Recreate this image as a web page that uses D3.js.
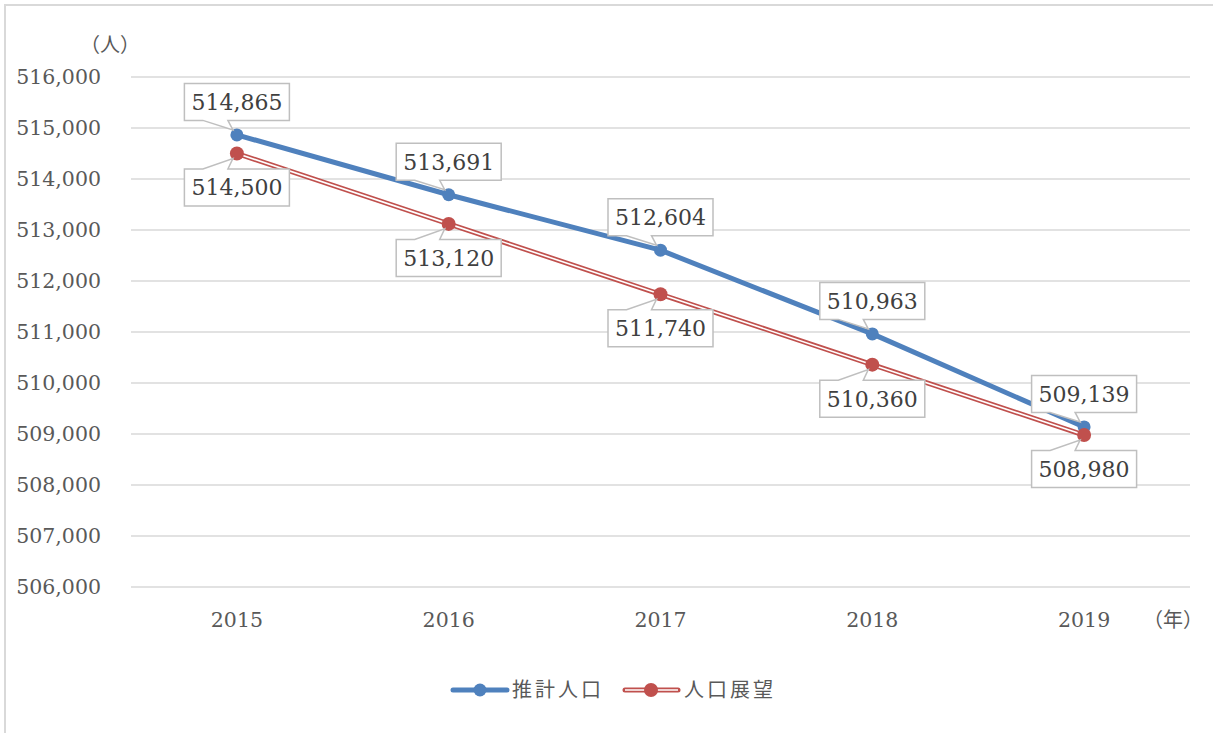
<!DOCTYPE html>
<html>
<head>
<meta charset="utf-8">
<script src="https://cdn.jsdelivr.net/npm/d3@7"></script>
<style>
  body { margin: 0; background: #fff; }
</style>
</head>
<body>
<div id="chart"></div>
<script>
// data
const years = ["2015", "2016", "2017", "2018", "2019"];
const estimated = [514865, 513691, 512604, 510963, 509139]; // 推計人口
const outlook = [514500, 513120, 511740, 510360, 508980];   // 人口展望
const yTicks = [506000, 507000, 508000, 509000, 510000, 511000, 512000, 513000, 514000, 515000, 516000];
const seriesNames = ["推計人口", "人口展望"];

const width = 1213;
const height = 733;
const margin = { top: 77, right: 23, bottom: 146, left: 131 };

const serif = "'DejaVu Serif', 'Liberation Serif', serif";
const jp = "'Noto Sans CJK JP', sans-serif";

const svg = d3.select("#chart")
    .append("svg")
    .attr("width", width)
    .attr("height", height);

// outer frame (only top + left visible in original)
svg.append("path")
    .attr("d", `M5,${height} L5,5 L${width + 5},5`)
    .attr("fill", "none")
    .attr("stroke", "#d9d9d9")
    .attr("stroke-width", 2);

const x = d3.scaleBand()
    .domain(years)
    .range([margin.left, width - margin.right]);

const y = d3.scaleLinear()
    .domain([506000, 516000])
    .range([height - margin.bottom, margin.top]);

const cx = d => x(d) + x.bandwidth() / 2;

// grid
svg.append("g")
    .selectAll("line")
    .data(yTicks)
    .join("line")
    .attr("x1", margin.left)
    .attr("x2", width - margin.right)
    .attr("y1", d => y(d))
    .attr("y2", d => y(d))
    .attr("stroke", "#d9d9d9")
    .attr("stroke-width", 1.5);

// y tick labels
svg.append("g")
    .selectAll("text")
    .data(yTicks)
    .join("text")
    .attr("x", 101)
    .attr("y", d => y(d))
    .attr("dy", "0.35em")
    .attr("text-anchor", "end")
    .attr("font-family", serif)
    .attr("font-size", 20.5)
    .attr("fill", "#595959")
    .text(d => d3.format(",")(d));

// x tick labels
svg.append("g")
    .selectAll("text")
    .data(years)
    .join("text")
    .attr("x", d => cx(d))
    .attr("y", 620)
    .attr("dy", "0.35em")
    .attr("text-anchor", "middle")
    .attr("font-family", serif)
    .attr("font-size", 20.5)
    .attr("fill", "#595959")
    .text(d => d);

// unit labels
svg.append("text")
    .attr("x", 110).attr("y", 45).attr("dy", "0.35em")
    .attr("text-anchor", "middle")
    .attr("font-family", jp).attr("font-size", 20).attr("fill", "#595959")
    .text("（人）");
svg.append("text")
    .attr("x", 1173).attr("y", 620).attr("dy", "0.35em")
    .attr("text-anchor", "middle")
    .attr("font-family", jp).attr("font-size", 20).attr("fill", "#595959")
    .text("（年）");

const line = d3.line()
    .x((d, i) => cx(years[i]))
    .y(d => y(d));

const blue = "#4f81bd";
const red = "#c0504d";

// 推計人口
svg.append("path")
    .datum(estimated)
    .attr("d", line)
    .attr("fill", "none")
    .attr("stroke", blue)
    .attr("stroke-width", 5)
    .attr("stroke-linejoin", "round");
svg.append("g")
    .selectAll("circle")
    .data(estimated)
    .join("circle")
    .attr("cx", (d, i) => cx(years[i]))
    .attr("cy", d => y(d))
    .attr("r", 6.5)
    .attr("fill", blue);

// 人口展望 (double line)
svg.append("path")
    .datum(outlook)
    .attr("d", line)
    .attr("fill", "none")
    .attr("stroke", red)
    .attr("stroke-width", 5);
svg.append("path")
    .datum(outlook)
    .attr("d", line)
    .attr("fill", "none")
    .attr("stroke", "#fff")
    .attr("stroke-width", 1.6);
svg.append("g")
    .selectAll("circle")
    .data(outlook)
    .join("circle")
    .attr("cx", (d, i) => cx(years[i]))
    .attr("cy", d => y(d))
    .attr("r", 7)
    .attr("fill", red);

// callout labels
const bw = 105, bh = 37;
function callout(values, above) {
    const g = svg.append("g");
    values.forEach((v, i) => {
        const px = cx(years[i]), py = y(v);
        const bx = px - bw / 2;
        const by = above ? py - 33 - bh / 2 : py + 34 - bh / 2;
        const edge = above ? by + bh : by;
        const tipY = above ? py - 5 : py + 5;
        const tipX = px - 4;
        const a = px - 34, b = px - 9;
        let d;
        if (above) {
            d = `M${bx},${by} H${bx + bw} V${edge} H${b} L${tipX},${tipY} L${a},${edge} H${bx} Z`;
        } else {
            d = `M${bx},${edge} H${a} L${tipX},${tipY} L${b},${edge} H${bx + bw} V${by + bh} H${bx} Z`;
        }
        g.append("path")
            .attr("d", d)
            .attr("fill", "#fff")
            .attr("stroke", "#bfbfbf")
            .attr("stroke-width", 1.5);
        g.append("text")
            .attr("x", px)
            .attr("y", by + bh / 2)
            .attr("dy", "0.36em")
            .attr("text-anchor", "middle")
            .attr("font-family", serif)
            .attr("font-size", 22)
            .attr("fill", "#404040")
            .text(d3.format(",")(v));
    });
}
callout(estimated, true);
callout(outlook, false);

// legend
const legend = svg.append("g");
const ly = 690;
legend.append("line")
    .attr("x1", 453).attr("x2", 507).attr("y1", ly).attr("y2", ly)
    .attr("stroke", blue).attr("stroke-width", 5).attr("stroke-linecap", "round");
legend.append("circle").attr("cx", 480).attr("cy", ly).attr("r", 6.5).attr("fill", blue);
legend.append("text")
    .attr("x", 512).attr("y", ly).attr("dy", "0.36em")
    .attr("font-family", jp).attr("font-size", 20).attr("letter-spacing", 3)
    .attr("fill", "#595959")
    .text(seriesNames[0]);

legend.append("line")
    .attr("x1", 625).attr("x2", 678).attr("y1", ly).attr("y2", ly)
    .attr("stroke", red).attr("stroke-width", 5).attr("stroke-linecap", "round");
legend.append("line")
    .attr("x1", 625).attr("x2", 678).attr("y1", ly).attr("y2", ly)
    .attr("stroke", "#fff").attr("stroke-width", 1.6);
legend.append("circle").attr("cx", 651).attr("cy", ly).attr("r", 7).attr("fill", red);
legend.append("text")
    .attr("x", 684).attr("y", ly).attr("dy", "0.36em")
    .attr("font-family", jp).attr("font-size", 20).attr("letter-spacing", 3)
    .attr("fill", "#595959")
    .text(seriesNames[1]);
</script>
</body>
</html>
